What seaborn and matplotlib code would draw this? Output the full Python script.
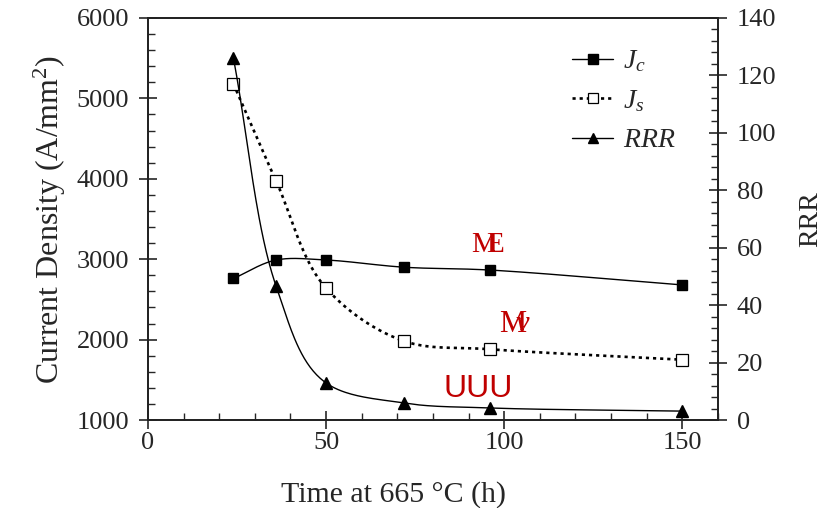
import numpy as np
import pandas as pd
import matplotlib
matplotlib.use("Agg")
import matplotlib.pyplot as plt
import seaborn as sns
from matplotlib.lines import Line2D
from matplotlib.ticker import MultipleLocator

# data
time_h = [24, 36, 50, 72, 96, 150]
jc = [2760, 2990, 2990, 2900, 2865, 2680]
js = [5180, 3970, 2640, 1980, 1880, 1750]
rrr = [126, 46.5, 12.9, 5.9, 4.2, 3.1]

sns.set_style("ticks")
plt.rcParams["font.family"] = ["Liberation Serif", "DejaVu Serif"]
plt.rcParams["mathtext.fontset"] = "custom"
plt.rcParams["mathtext.rm"] = "Liberation Serif"
plt.rcParams["mathtext.it"] = "Liberation Serif:italic"


def smooth(x, y, xspan, yspan, n=40):
    # centripetal Catmull-Rom through the measured points (drawing only)
    p = np.column_stack([np.asarray(x, float) / xspan, np.asarray(y, float) / yspan])
    p = np.vstack([2 * p[0] - p[1], p, 2 * p[-1] - p[-2]])
    out = []
    for i in range(1, len(p) - 2):
        p0, p1, p2, p3 = p[i - 1], p[i], p[i + 1], p[i + 2]
        t0 = 0.0
        t1 = t0 + np.linalg.norm(p1 - p0) ** 0.5
        t2 = t1 + np.linalg.norm(p2 - p1) ** 0.5
        t3 = t2 + np.linalg.norm(p3 - p2) ** 0.5
        t = np.linspace(t1, t2, n)[:, None]
        a1 = (t1 - t) / (t1 - t0) * p0 + (t - t0) / (t1 - t0) * p1
        a2 = (t2 - t) / (t2 - t1) * p1 + (t - t1) / (t2 - t1) * p2
        a3 = (t3 - t) / (t3 - t2) * p2 + (t - t2) / (t3 - t2) * p3
        b1 = (t2 - t) / (t2 - t0) * a1 + (t - t0) / (t2 - t0) * a2
        b2 = (t3 - t) / (t3 - t1) * a2 + (t - t1) / (t3 - t1) * a3
        c = (t2 - t) / (t2 - t1) * b1 + (t - t1) / (t2 - t1) * b2
        out.append(c if i == 1 else c[1:])
    c = np.vstack(out)
    return pd.DataFrame({"x": c[:, 0] * xspan, "y": c[:, 1] * yspan})


fig = plt.figure(figsize=(8.28, 5.08), dpi=100)
ax = fig.add_axes([0.1787, 0.1732, 0.6884, 0.7914])
ax2 = ax.twinx()

jc_s = smooth(time_h, jc, 160, 5000)
js_s = smooth(time_h, js, 160, 5000)
rrr_s = smooth(time_h, rrr, 160, 140)

sns.lineplot(data=jc_s, x="x", y="y", ax=ax, color="black", lw=1.0, sort=False)
sns.lineplot(data=js_s, x="x", y="y", ax=ax, color="black", lw=1.9, sort=False,
             linestyle=(0, (1.2, 1.5)))
sns.lineplot(data=rrr_s, x="x", y="y", ax=ax2, color="black", lw=1.0, sort=False)

ax.plot(time_h, jc, ls="none", marker="s", ms=7.5, mfc="black", mec="black")
ax.plot(time_h, js, ls="none", marker="s", ms=8, mfc="white", mec="black", mew=0.9)
ax2.plot(time_h, rrr, ls="none", marker="^", ms=8, mfc="black", mec="black")

ax.set_xlim(0, 160)
ax.set_ylim(1000, 6000)
ax2.set_ylim(0, 140)

ax.xaxis.set_major_locator(MultipleLocator(50))
ax.xaxis.set_minor_locator(MultipleLocator(10))
ax.yaxis.set_major_locator(MultipleLocator(1000))
ax.yaxis.set_minor_locator(MultipleLocator(200))
ax2.yaxis.set_major_locator(MultipleLocator(20))
ax2.yaxis.set_minor_locator(MultipleLocator(4))

for a in (ax, ax2):
    for s in a.spines.values():
        s.set_visible(True)
        s.set_linewidth(1.3)
        s.set_color("#222222")
    a.set_xlabel("")
    a.set_ylabel("")

ax.tick_params(which="major", direction="inout", length=13, width=1.2, labelsize=19)
ax.tick_params(which="minor", direction="in", length=5, width=1.0)
ax.tick_params(axis="y", which="major", pad=7)
ax.tick_params(axis="x", which="major", pad=2)
ax.tick_params(axis="y", which="both", right=False)
ax.tick_params(axis="x", which="both", top=False)
ax2.tick_params(which="major", direction="inout", length=13, width=1.2, labelsize=19, pad=7)
ax2.tick_params(which="minor", direction="in", length=5, width=1.0)

ax.set_xlabel("Time at 665 \u00b0C (h)", fontsize=21.5)
ax.xaxis.set_label_coords(0.43, -0.152)
ax.set_ylabel("Current Density (A/mm$^2$)", fontsize=23, labelpad=6)
ax2.set_ylabel("RRR", fontsize=20, labelpad=16)

# red overlay labels (glyphs pulled together as in the reference)
red = "#c00000"
ax.text(95.4, 3177, r"$\mathrm{M}\!\!\!\mathrm{E}$", color=red, fontsize=21,
        ha="center", va="center")
ax.text(103, 2182, r"$\mathrm{M}\!\!\!v$", color=red, fontsize=22,
        ha="center", va="center")
ax.text(92.6, 1386, "UUU", color=red, fontsize=23, ha="center", va="center",
        family="Liberation Sans")

handles = [
    Line2D([], [], color="black", lw=1.0, marker="s", ms=7, mfc="black"),
    Line2D([], [], color="black", lw=1.9, ls=(0, (1.2, 1.5)), marker="s", ms=7,
           mfc="white", mew=0.9),
    Line2D([], [], color="black", lw=1.0, marker="^", ms=7, mfc="black"),
]
ax.legend(handles, ["$J_c$", "$J_s$", "$RRR$"], loc="upper left",
          bbox_to_anchor=(0.724, 0.952), borderaxespad=0, frameon=False,
          fontsize=20, handlelength=1.5, handletextpad=0.35, labelspacing=0.5)

fig.savefig("out.png", dpi=100)
